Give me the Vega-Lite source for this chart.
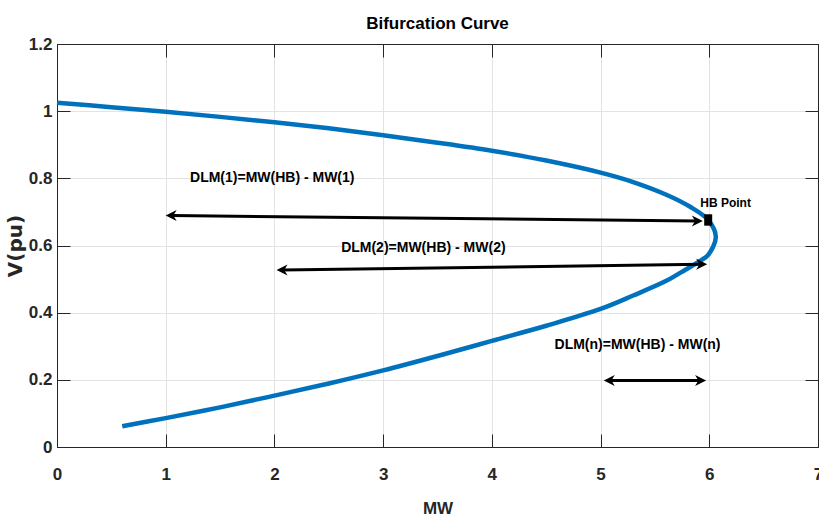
{
  "$schema": "https://vega.github.io/schema/vega-lite/v6.json",
  "width": 761,
  "height": 403,
  "autosize": {"type": "none"},
  "padding": {"left": 57, "top": 44, "right": 1, "bottom": 72},
  "background": "white",
  "config": {
    "font": "Liberation Sans",
    "view": {"stroke": "#262626", "strokeWidth": 1},
    "axis": {
      "domainColor": "#262626",
      "tickColor": "#262626",
      "labelColor": "#262626",
      "titleColor": "#262626",
      "gridColor": "#e3e3e3",
      "gridWidth": 1,
      "tickSize": -13,
      "tickWidth": 1,
      "labelFont": "Liberation Sans",
      "labelFontWeight": "bold",
      "labelFontSize": 17,
      "titleFontWeight": "bold"
    }
  },
  "title": {
    "text": "Bifurcation Curve",
    "font": "Liberation Sans",
    "fontSize": 17,
    "fontWeight": "bold",
    "color": "#000000",
    "baseline": "alphabetic",
    "offset": -11
  },
  "datasets": {
    "curve": [
      {"mw": 0, "v": 1.025, "o": 1},
      {"mw": 0.5, "v": 1.012, "o": 2},
      {"mw": 1, "v": 0.998, "o": 3},
      {"mw": 1.5, "v": 0.983, "o": 4},
      {"mw": 2, "v": 0.967, "o": 5},
      {"mw": 2.5, "v": 0.949, "o": 6},
      {"mw": 3, "v": 0.928, "o": 7},
      {"mw": 3.5, "v": 0.906, "o": 8},
      {"mw": 4, "v": 0.882, "o": 9},
      {"mw": 4.5, "v": 0.853, "o": 10},
      {"mw": 5, "v": 0.817, "o": 11},
      {"mw": 5.3, "v": 0.789, "o": 12},
      {"mw": 5.6, "v": 0.752, "o": 13},
      {"mw": 5.82, "v": 0.716, "o": 14},
      {"mw": 5.99, "v": 0.676, "o": 15},
      {"mw": 6.06, "v": 0.626, "o": 16},
      {"mw": 5.99, "v": 0.572, "o": 17},
      {"mw": 5.92, "v": 0.555, "o": 18},
      {"mw": 5.74, "v": 0.520, "o": 19},
      {"mw": 5.6, "v": 0.494, "o": 20},
      {"mw": 5.3, "v": 0.451, "o": 21},
      {"mw": 5, "v": 0.411, "o": 22},
      {"mw": 4.5, "v": 0.361, "o": 23},
      {"mw": 4, "v": 0.316, "o": 24},
      {"mw": 3.5, "v": 0.271, "o": 25},
      {"mw": 3, "v": 0.228, "o": 26},
      {"mw": 2.5, "v": 0.189, "o": 27},
      {"mw": 2, "v": 0.153, "o": 28},
      {"mw": 1.5, "v": 0.118, "o": 29},
      {"mw": 1, "v": 0.086, "o": 30},
      {"mw": 0.6, "v": 0.062, "o": 31}
    ],
    "arrows": [
      {"x1": 1.05, "y1": 0.689, "x2": 5.89, "y2": 0.673},
      {"x1": 2.07, "y1": 0.527, "x2": 5.93, "y2": 0.544},
      {"x1": 5.08, "y1": 0.198, "x2": 5.92, "y2": 0.198}
    ],
    "heads": [
      {"x": 1.05, "y": 0.689, "dir": "left"},
      {"x": 5.89, "y": 0.673, "dir": "right"},
      {"x": 2.07, "y": 0.527, "dir": "left"},
      {"x": 5.93, "y": 0.544, "dir": "right"},
      {"x": 5.08, "y": 0.198, "dir": "left"},
      {"x": 5.92, "y": 0.198, "dir": "right"}
    ],
    "labels": [
      {"x": 1.98, "y": 0.801, "text": "DLM(1)=MW(HB) - MW(1)"},
      {"x": 3.37, "y": 0.592, "text": "DLM(2)=MW(HB) - MW(2)"},
      {"x": 5.34, "y": 0.304, "text": "DLM(n)=MW(HB) - MW(n)"}
    ],
    "hb": [
      {"x": 5.99, "y": 0.676, "text": "HB Point", "tx": 6.15, "ty": 0.726}
    ]
  },
  "resolve": {"axis": {"x": "independent", "y": "independent"}},
  "layer": [
    {
      "data": {"name": "curve"},
      "mark": {"type": "line", "color": "#0072BD", "strokeWidth": 4.5, "strokeCap": "butt", "strokeJoin": "round", "interpolate": "catmull-rom"},
      "encoding": {
        "x": {"field": "mw", "type": "quantitative",
          "scale": {"domain": [0, 7], "nice": false, "zero": false},
          "axis": {"values": [0, 1, 2, 3, 4, 5, 6, 7], "format": "~g", "grid": true, "labelPadding": 32, "labelFlush": false,
            "title": "MW", "titleFontSize": 17, "titleFont": "Liberation Sans", "titlePadding": 18}},
        "y": {"field": "v", "type": "quantitative",
          "scale": {"domain": [0, 1.2], "nice": false, "zero": false},
          "axis": {"values": [0, 0.2, 0.4, 0.6, 0.8, 1, 1.2], "format": "~g", "grid": true, "labelPadding": 18, "labelFlush": false,
            "title": "V(pu)", "titleFont": "DejaVu Sans", "titleFontSize": 20, "titlePadding": 3}},
        "order": {"field": "o", "type": "quantitative"}
      }
    },
    {
      "data": {"name": "hb"},
      "mark": {"type": "point", "shape": "M-0.7,-1L0.7,-1L0.7,1L-0.7,1Z", "filled": true, "color": "#000000", "size": 130, "opacity": 1},
      "encoding": {
        "x": {"field": "x", "type": "quantitative",
          "axis": {"orient": "top", "values": [0, 1, 2, 3, 4, 5, 6, 7], "labels": false, "grid": false, "title": null}},
        "y": {"field": "y", "type": "quantitative",
          "axis": {"orient": "right", "values": [0, 0.2, 0.4, 0.6, 0.8, 1, 1.2], "labels": false, "grid": false, "title": null}}
      }
    },
    {
      "data": {"name": "arrows"},
      "mark": {"type": "rule", "color": "#000000", "strokeWidth": 3},
      "encoding": {
        "x": {"field": "x1", "type": "quantitative", "axis": null},
        "y": {"field": "y1", "type": "quantitative", "axis": null},
        "x2": {"field": "x2"},
        "y2": {"field": "y2"}
      }
    },
    {
      "data": {"name": "heads"},
      "mark": {"type": "point", "shape": "M1,0L-1,-1L-0.4,0L-1,1Z", "filled": true, "color": "#000000", "size": 121, "opacity": 1, "strokeWidth": 0},
      "encoding": {
        "x": {"field": "x", "type": "quantitative", "axis": null},
        "y": {"field": "y", "type": "quantitative", "axis": null},
        "angle": {"field": "dir", "type": "nominal", "scale": {"domain": ["left", "right"], "range": [180, 0]}, "legend": null}
      }
    },
    {
      "data": {"name": "labels"},
      "mark": {"type": "text", "font": "Liberation Sans", "fontWeight": "bold", "fontSize": 14, "color": "#000000", "align": "center", "baseline": "middle"},
      "encoding": {
        "x": {"field": "x", "type": "quantitative", "axis": null},
        "y": {"field": "y", "type": "quantitative", "axis": null},
        "text": {"field": "text"}
      }
    },
    {
      "data": {"name": "hb"},
      "mark": {"type": "text", "font": "Liberation Sans", "fontWeight": "bold", "fontSize": 12, "color": "#000000", "align": "center", "baseline": "middle"},
      "encoding": {
        "x": {"field": "tx", "type": "quantitative", "axis": null},
        "y": {"field": "ty", "type": "quantitative", "axis": null},
        "text": {"field": "text"}
      }
    }
  ]
}
